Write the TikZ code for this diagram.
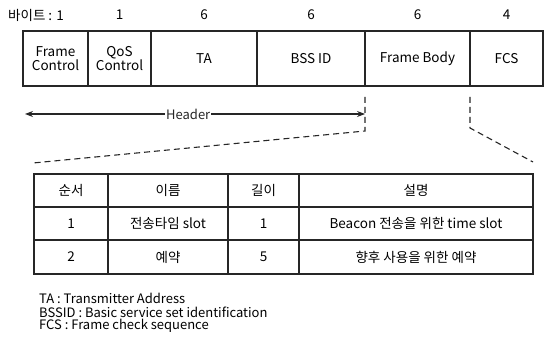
\documentclass[tikz,border=0pt]{standalone}
\usepackage{fontspec}
\setmainfont{Noto Sans CJK KR}
\usetikzlibrary{arrows.meta}
\begin{document}
\begin{tikzpicture}[x=1pt,y=-1pt,
  fieldbox/.style={draw=black!85,line width=1.3pt,inner sep=0pt,minimum height=55pt,align=center,font=\fontsize{13.5}{14.5}\selectfont},
  bytelbl/.style={inner sep=0pt,font=\fontsize{13.5}{15}\selectfont},
  cell/.style={inner sep=0pt,font=\fontsize{13.5}{15}\selectfont},
  note/.style={inner sep=0pt,anchor=west,font=\fontsize{13}{15}\selectfont},
  zoomline/.style={dashed,dash pattern=on 6pt off 4pt,line width=1.1pt,black!85},
  tabline/.style={line width=1.3pt,black!85}]
\useasboundingbox (0,0) rectangle (547,347);
% field boxes
\node[fieldbox,minimum width=65pt] (fc) at (55.5,58.5) {Frame\\Control};
\node[fieldbox,minimum width=63pt] (qos) at (119.5,58.5) {QoS\\Control};
\node[fieldbox,minimum width=106pt] (ta) at (204,58.5) {TA};
\node[fieldbox,minimum width=108pt] (bss) at (311,58.5) {BSS ID};
\node[fieldbox,minimum width=105pt] (fb) at (417.5,58.5) {Frame Body};
\node[fieldbox,minimum width=73pt] (fcs) at (506.5,58.5) {FCS};
% byte labels
\node[bytelbl,anchor=west] (b0) at (8,15) {바이트 : 1};
\node[bytelbl] (b1) at (119.5,15) {1};
\node[bytelbl] (b2) at (204,15) {6};
\node[bytelbl] (b3) at (311,15) {6};
\node[bytelbl] (b4) at (417.5,15) {6};
\node[bytelbl] (b5) at (506.5,15) {4};
% header arrow
\coordinate (hl) at (25,114);
\coordinate (hr) at (365,114);
\draw[line width=1.1pt,black!85,{Stealth[length=8pt,width=6pt]}-{Stealth[length=8pt,width=6pt]}] (hl) -- (hr)
  node[pos=0.48,fill=white,inner sep=1pt,font=\fontsize{13}{14}\selectfont] (hdr) {Header};
% zoom lines
\coordinate (v1a) at (365,97);
\coordinate (v1b) at (365,131);
\coordinate (v2a) at (470,97);
\coordinate (v2b) at (470,128);
\coordinate (d1) at (33,163);
\coordinate (d2) at (533,162);
\draw[zoomline] (v1a) -- (v1b) -- (d1);
\draw[zoomline] (v2a) -- (v2b) -- (d2);
% table
\draw[tabline] (34,174) rectangle (533,274);
\foreach \x in {108,228,299} \draw[tabline] (\x,174) -- (\x,274);
\foreach \y in {207,240} \draw[tabline] (34,\y) -- (533,\y);
\node[cell] (h1) at (71,190.5) {순서};
\node[cell] (h2) at (168,190.5) {이름};
\node[cell] (h3) at (263.5,190.5) {길이};
\node[cell] (h4) at (416,190.5) {설명};
\node[cell] (r11) at (71,223.5) {1};
\node[cell] (r12) at (168,223.5) {전송타임 slot};
\node[cell] (r13) at (263.5,223.5) {1};
\node[cell] (r14) at (416,223.5) {Beacon 전송을 위한 time slot};
\node[cell] (r21) at (71,257) {2};
\node[cell] (r22) at (168,257) {예약};
\node[cell] (r23) at (263.5,257) {5};
\node[cell] (r24) at (416,257) {향후 사용을 위한 예약};
% notes
\node[note] (n1) at (39,298) {TA : Transmitter Address};
\node[note] (n2) at (39,312) {BSSID : Basic service set identification};
\node[note] (n3) at (39,326) {FCS : Frame check sequence};
\end{tikzpicture}
\end{document}
